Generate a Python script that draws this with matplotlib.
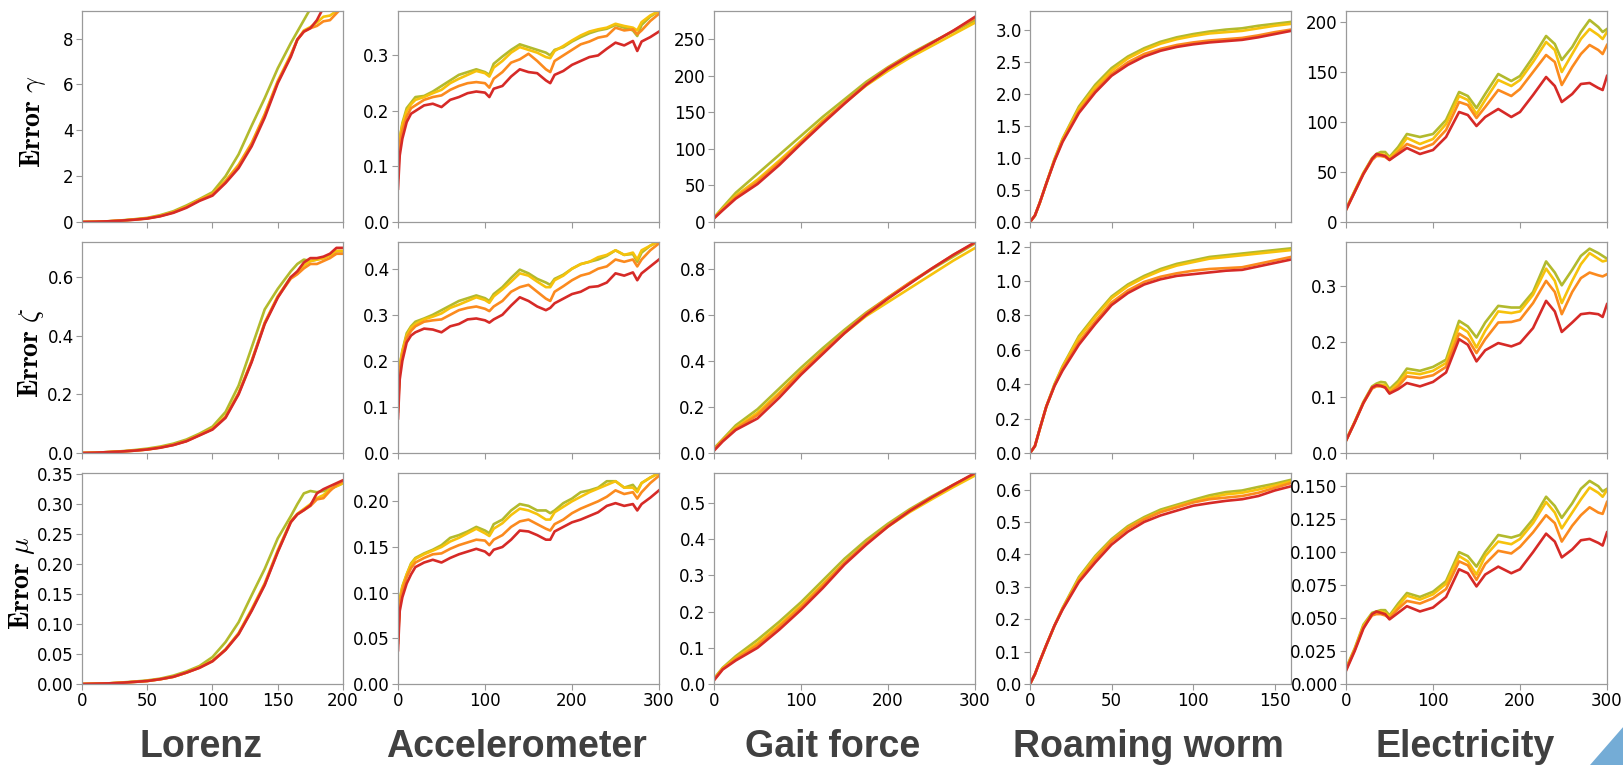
import matplotlib.pyplot as plt
from matplotlib.patches import Polygon
from matplotlib.ticker import FormatStrFormatter

plt.rcParams['mathtext.fontset'] = 'cm'

# series order in every list: red, orange, gold, green
colors = ['#d62a27', '#fb8a1e', '#f6c20c', '#b2ba2d']

# ---------------- Lorenz ----------------
lorenz_x = [0, 10, 20, 30, 40, 50, 60, 70, 80, 90, 100, 110, 120, 130, 140, 150,
            160, 165, 170, 175, 180, 185, 190, 195, 200]
lorenz_gamma = [
    [0, 0.01, 0.03, 0.06, 0.1, 0.15, 0.25, 0.4, 0.62, 0.92, 1.15, 1.7, 2.35, 3.3, 4.55, 6.05,
     7.2, 7.95, 8.3, 8.45, 8.8, 9.35, 9.6, 9.7, 9.9],
    [0, 0.01, 0.03, 0.06, 0.1, 0.16, 0.26, 0.42, 0.65, 0.95, 1.2, 1.75, 2.45, 3.4, 4.65, 6.1,
     7.25, 7.95, 8.3, 8.45, 8.55, 8.75, 8.8, 9.1, 9.4],
    [0, 0.01, 0.03, 0.06, 0.11, 0.16, 0.27, 0.43, 0.66, 0.97, 1.22, 1.8, 2.5, 3.45, 4.7, 6.15,
     7.3, 7.95, 8.35, 8.5, 8.7, 8.95, 9.0, 9.2, 9.4],
    [0, 0.01, 0.03, 0.07, 0.12, 0.18, 0.3, 0.47, 0.72, 1.0, 1.3, 2.0, 2.95, 4.2, 5.4, 6.7,
     7.8, 8.3, 8.8, 9.3, 9.5, 9.6, 9.7, 9.8, 9.9],
]
lorenz_zeta = [
    [0, 0.001, 0.003, 0.005, 0.008, 0.012, 0.018, 0.027, 0.04, 0.06, 0.08, 0.12, 0.2, 0.31, 0.44,
     0.53, 0.6, 0.62, 0.65, 0.665, 0.665, 0.67, 0.68, 0.7, 0.7],
    [0, 0.001, 0.003, 0.005, 0.008, 0.012, 0.019, 0.028, 0.041, 0.061, 0.082, 0.123, 0.203, 0.313,
     0.443, 0.532, 0.595, 0.61, 0.63, 0.645, 0.645, 0.655, 0.665, 0.68, 0.68],
    [0, 0.001, 0.003, 0.005, 0.008, 0.012, 0.019, 0.028, 0.041, 0.062, 0.083, 0.125, 0.205, 0.315,
     0.445, 0.535, 0.6, 0.615, 0.64, 0.655, 0.66, 0.665, 0.675, 0.69, 0.69],
    [0, 0.001, 0.003, 0.006, 0.01, 0.015, 0.022, 0.032, 0.046, 0.066, 0.09, 0.14, 0.23, 0.36, 0.49,
     0.56, 0.62, 0.645, 0.66, 0.655, 0.66, 0.665, 0.675, 0.68, 0.68],
]
lorenz_mu = [
    [0, 0.0005, 0.001, 0.002, 0.0035, 0.005, 0.008, 0.012, 0.019, 0.027, 0.038, 0.057, 0.083,
     0.122, 0.165, 0.22, 0.27, 0.283, 0.29, 0.298, 0.318, 0.325, 0.33, 0.335, 0.34],
    [0, 0.0005, 0.001, 0.002, 0.0035, 0.005, 0.008, 0.012, 0.019, 0.027, 0.038, 0.057, 0.084,
     0.123, 0.166, 0.221, 0.27, 0.283, 0.29, 0.297, 0.308, 0.31, 0.322, 0.332, 0.338],
    [0, 0.0005, 0.001, 0.002, 0.0035, 0.005, 0.008, 0.012, 0.019, 0.028, 0.039, 0.058, 0.085,
     0.125, 0.168, 0.223, 0.272, 0.284, 0.292, 0.3, 0.31, 0.315, 0.325, 0.33, 0.335],
    [0, 0.0005, 0.001, 0.0025, 0.004, 0.006, 0.009, 0.014, 0.021, 0.03, 0.045, 0.07, 0.103,
     0.148, 0.192, 0.243, 0.28, 0.3, 0.318, 0.322, 0.32, 0.322, 0.325, 0.33, 0.335],
]

# ---------------- Accelerometer ----------------
accel_x = [0, 2, 5, 10, 15, 20, 30, 40, 50, 60, 70, 80, 90, 100, 105, 110, 120, 130, 140, 150,
           160, 170, 175, 180, 190, 200, 210, 220, 230, 240, 250, 260, 270, 275, 280, 290, 300]
accel_gamma = [
    [0.06, 0.12, 0.15, 0.18, 0.195, 0.2, 0.21, 0.213, 0.207, 0.22, 0.225, 0.232, 0.235, 0.233,
     0.225, 0.24, 0.245, 0.262, 0.275, 0.27, 0.268, 0.255, 0.25, 0.265, 0.272, 0.283, 0.29, 0.297,
     0.3, 0.312, 0.323, 0.318, 0.326, 0.308, 0.325, 0.333, 0.343],
    [0.08, 0.14, 0.165, 0.19, 0.205, 0.21, 0.22, 0.225, 0.228, 0.238, 0.245, 0.25, 0.252, 0.25,
     0.242, 0.258, 0.27, 0.287, 0.293, 0.303, 0.29, 0.275, 0.27, 0.29, 0.3, 0.31, 0.32, 0.325,
     0.332, 0.335, 0.35, 0.345, 0.347, 0.338, 0.345, 0.362, 0.375],
    [0.09, 0.15, 0.175, 0.2, 0.212, 0.22, 0.225, 0.232, 0.238, 0.25, 0.258, 0.265, 0.272, 0.268,
     0.262, 0.278, 0.29, 0.305, 0.315, 0.31, 0.305, 0.297, 0.295, 0.308, 0.317, 0.327, 0.336,
     0.343, 0.347, 0.35, 0.357, 0.353, 0.35, 0.345, 0.36, 0.372, 0.38],
    [0.09, 0.15, 0.178, 0.205, 0.215, 0.225, 0.227, 0.235, 0.245, 0.255, 0.265, 0.27, 0.275, 0.27,
     0.265, 0.285, 0.298, 0.31, 0.32, 0.315, 0.31, 0.305, 0.3, 0.31, 0.315, 0.325, 0.333, 0.34,
     0.345, 0.348, 0.355, 0.35, 0.345, 0.335, 0.355, 0.37, 0.38],
]
accel_zeta = [
    [0.075, 0.16, 0.2, 0.24, 0.255, 0.262, 0.27, 0.268, 0.262, 0.275, 0.28, 0.29, 0.292, 0.288,
     0.283, 0.29, 0.3, 0.32, 0.338, 0.33, 0.318, 0.31, 0.315, 0.325, 0.335, 0.345, 0.35, 0.36,
     0.362, 0.37, 0.39, 0.385, 0.392, 0.375, 0.39, 0.405, 0.42],
    [0.09, 0.18, 0.21, 0.25, 0.265, 0.275, 0.285, 0.288, 0.29, 0.3, 0.31, 0.315, 0.318, 0.313,
     0.308, 0.318, 0.33, 0.35, 0.36, 0.365, 0.35, 0.335, 0.33, 0.35, 0.362, 0.375, 0.385, 0.39,
     0.4, 0.405, 0.42, 0.415, 0.42, 0.405, 0.42, 0.44, 0.455],
    [0.1, 0.19, 0.22, 0.255, 0.272, 0.28, 0.29, 0.296, 0.303, 0.315, 0.322, 0.33, 0.338, 0.332,
     0.326, 0.34, 0.355, 0.372, 0.39, 0.385, 0.372, 0.36, 0.36, 0.375, 0.385, 0.4, 0.41, 0.415,
     0.425, 0.43, 0.44, 0.43, 0.435, 0.42, 0.44, 0.45, 0.46],
    [0.1, 0.19, 0.222, 0.26, 0.275, 0.285, 0.292, 0.3, 0.31, 0.32, 0.33, 0.336, 0.342, 0.336,
     0.33, 0.345, 0.36, 0.38, 0.398, 0.39, 0.378, 0.37, 0.365, 0.378, 0.387, 0.4, 0.41, 0.415,
     0.42, 0.428, 0.44, 0.43, 0.432, 0.415, 0.435, 0.45, 0.46],
]
accel_mu = [
    [0.037, 0.08, 0.095, 0.11, 0.12, 0.128, 0.133, 0.136, 0.133, 0.138, 0.142, 0.145, 0.148,
     0.145, 0.141, 0.147, 0.15, 0.158, 0.168, 0.167, 0.163, 0.158, 0.158, 0.167, 0.172, 0.177,
     0.18, 0.184, 0.188, 0.195, 0.198, 0.195, 0.197, 0.19, 0.197, 0.204, 0.212],
    [0.045, 0.088, 0.102, 0.117, 0.127, 0.133, 0.138, 0.142, 0.143, 0.148, 0.152, 0.155, 0.158,
     0.157, 0.152, 0.158, 0.163, 0.172, 0.178, 0.18, 0.175, 0.17, 0.168, 0.175, 0.18, 0.187,
     0.192, 0.196, 0.2, 0.205, 0.212, 0.208, 0.21, 0.203, 0.21, 0.22, 0.228],
    [0.05, 0.092, 0.106, 0.12, 0.131, 0.137, 0.142, 0.146, 0.15, 0.156, 0.16, 0.165, 0.17,
     0.165, 0.162, 0.17, 0.176, 0.185, 0.192, 0.19, 0.186, 0.18, 0.18, 0.188, 0.194, 0.2, 0.205,
     0.21, 0.214, 0.218, 0.222, 0.215, 0.215, 0.21, 0.22, 0.226, 0.231],
    [0.05, 0.093, 0.107, 0.12, 0.132, 0.138, 0.143, 0.147, 0.152, 0.16, 0.163, 0.167, 0.172,
     0.168, 0.165, 0.175, 0.18, 0.19, 0.197, 0.195, 0.19, 0.19, 0.187, 0.19, 0.198, 0.203, 0.21,
     0.212, 0.215, 0.222, 0.222, 0.215, 0.218, 0.212, 0.22, 0.226, 0.231],
]

# ---------------- Gait force ----------------
gait_x = [0, 10, 25, 50, 75, 100, 125, 150, 175, 200, 225, 250, 275, 300]
gait_gamma = [
    [5, 16, 32, 52, 78, 107, 135, 162, 188, 210, 228, 245, 262, 281],
    [5, 17, 34, 55, 81, 109, 137, 164, 189, 211, 229, 245, 262, 279],
    [6, 18, 36, 58, 84, 111, 139, 163, 187, 207, 225, 241, 257, 273],
    [6, 20, 40, 66, 92, 118, 144, 168, 192, 212, 230, 246, 261, 276],
]
gait_zeta = [
    [0.01, 0.05, 0.1, 0.15, 0.24, 0.34, 0.43, 0.52, 0.6, 0.67, 0.735, 0.8, 0.86, 0.915],
    [0.015, 0.055, 0.105, 0.165, 0.255, 0.35, 0.44, 0.525, 0.605, 0.675, 0.74, 0.8, 0.86, 0.912],
    [0.015, 0.055, 0.11, 0.175, 0.262, 0.355, 0.44, 0.52, 0.595, 0.655, 0.715, 0.775, 0.835, 0.89],
    [0.02, 0.06, 0.12, 0.19, 0.28, 0.37, 0.455, 0.535, 0.61, 0.675, 0.738, 0.797, 0.853, 0.91],
]
gait_mu = [
    [0.01, 0.04, 0.065, 0.1, 0.15, 0.205, 0.265, 0.33, 0.385, 0.435, 0.478, 0.515, 0.55, 0.583],
    [0.012, 0.042, 0.069, 0.107, 0.158, 0.212, 0.272, 0.335, 0.39, 0.438, 0.48, 0.516, 0.55, 0.582],
    [0.013, 0.043, 0.072, 0.113, 0.163, 0.217, 0.276, 0.336, 0.389, 0.435, 0.475, 0.51, 0.544, 0.576],
    [0.015, 0.045, 0.077, 0.122, 0.172, 0.226, 0.286, 0.346, 0.398, 0.443, 0.483, 0.518, 0.55, 0.58],
]

# ---------------- Roaming worm ----------------
worm_x = [0, 3, 6, 10, 15, 20, 30, 40, 50, 60, 70, 80, 90, 100, 110, 120, 130, 140, 150, 160]
worm_gamma = [
    [0, 0.1, 0.3, 0.6, 0.95, 1.25, 1.7, 2.02, 2.28, 2.45, 2.58, 2.67, 2.73, 2.77, 2.8, 2.82, 2.84,
     2.88, 2.93, 2.98],
    [0, 0.1, 0.3, 0.6, 0.96, 1.27, 1.73, 2.05, 2.31, 2.49, 2.62, 2.7, 2.76, 2.8, 2.83, 2.85, 2.87,
     2.91, 2.96, 3.0],
    [0, 0.1, 0.3, 0.6, 0.97, 1.29, 1.77, 2.1, 2.36, 2.55, 2.68, 2.78, 2.85, 2.9, 2.94, 2.96, 2.98,
     3.02, 3.06, 3.09],
    [0, 0.1, 0.3, 0.6, 0.98, 1.3, 1.8, 2.14, 2.4, 2.58, 2.71, 2.81, 2.88, 2.93, 2.97, 3.0, 3.02,
     3.06, 3.09, 3.12],
]
worm_zeta = [
    [0, 0.04, 0.14, 0.27, 0.39, 0.48, 0.63, 0.75, 0.86, 0.93, 0.98, 1.01, 1.03, 1.04, 1.05, 1.06,
     1.065, 1.085, 1.105, 1.125],
    [0, 0.04, 0.14, 0.27, 0.39, 0.49, 0.645, 0.765, 0.875, 0.945, 0.995, 1.025, 1.045, 1.06, 1.07,
     1.075, 1.08, 1.1, 1.12, 1.14],
    [0, 0.04, 0.14, 0.27, 0.395, 0.5, 0.67, 0.79, 0.9, 0.97, 1.02, 1.06, 1.09, 1.11, 1.13, 1.14,
     1.15, 1.16, 1.17, 1.18],
    [0, 0.04, 0.14, 0.27, 0.4, 0.505, 0.68, 0.8, 0.91, 0.98, 1.03, 1.07, 1.1, 1.12, 1.14, 1.15,
     1.16, 1.17, 1.18, 1.19],
]
worm_mu = [
    [0, 0.03, 0.07, 0.12, 0.18, 0.23, 0.315, 0.375, 0.43, 0.47, 0.5, 0.52, 0.535, 0.55, 0.558,
     0.565, 0.57, 0.58, 0.597, 0.61],
    [0, 0.03, 0.07, 0.12, 0.18, 0.232, 0.32, 0.385, 0.44, 0.48, 0.508, 0.53, 0.545, 0.56, 0.57,
     0.575, 0.58, 0.59, 0.605, 0.62],
    [0, 0.03, 0.07, 0.12, 0.18, 0.233, 0.325, 0.39, 0.442, 0.482, 0.51, 0.532, 0.548, 0.562, 0.575,
     0.585, 0.59, 0.6, 0.612, 0.625],
    [0, 0.03, 0.07, 0.12, 0.18, 0.235, 0.33, 0.395, 0.447, 0.487, 0.515, 0.538, 0.553, 0.568,
     0.582, 0.592, 0.597, 0.608, 0.618, 0.63],
]

# ---------------- Electricity ----------------
elec_x = [0, 10, 20, 30, 35, 40, 45, 50, 60, 70, 85, 100, 115, 130, 140, 150, 160, 175, 190, 200,
          215, 230, 240, 248, 260, 270, 280, 290, 295, 300]
elec_gamma = [
    [12, 30, 48, 63, 68, 67, 66, 62, 68, 74, 68, 72, 85, 110, 107, 96, 105, 113, 105, 110, 127,
     145, 136, 120, 128, 138, 139, 134, 132, 146],
    [12, 30, 48, 62, 66, 66, 65, 62, 70, 78, 73, 78, 92, 120, 117, 104, 115, 132, 126, 133, 150,
     167, 160, 137, 155, 168, 177, 172, 168, 177],
    [13, 31, 49, 63, 67, 68, 67, 64, 72, 84, 78, 83, 98, 126, 122, 108, 122, 142, 136, 142, 160,
     180, 172, 150, 168, 183, 193, 187, 183, 190],
    [13, 31, 49, 64, 68, 70, 70, 65, 75, 88, 85, 88, 102, 130, 126, 114, 128, 148, 141, 146, 165,
     186, 178, 162, 175, 190, 202, 195, 190, 193],
]
elec_zeta = [
    [0.022, 0.055, 0.09, 0.118, 0.122, 0.121, 0.118, 0.107, 0.115, 0.126, 0.12, 0.128, 0.145,
     0.205, 0.195, 0.165, 0.185, 0.198, 0.192, 0.198, 0.225, 0.274, 0.255, 0.218, 0.235, 0.25,
     0.252, 0.25, 0.245, 0.268],
    [0.022, 0.055, 0.09, 0.116, 0.12, 0.12, 0.118, 0.108, 0.12, 0.138, 0.135, 0.14, 0.155, 0.215,
     0.205, 0.18, 0.205, 0.235, 0.236, 0.24, 0.27, 0.31, 0.29, 0.25, 0.29, 0.315, 0.325, 0.32,
     0.318, 0.322],
    [0.023, 0.056, 0.091, 0.118, 0.122, 0.123, 0.122, 0.111, 0.125, 0.145, 0.142, 0.148, 0.162,
     0.228, 0.218, 0.19, 0.22, 0.255, 0.252, 0.255, 0.285, 0.332, 0.31, 0.27, 0.31, 0.34, 0.36,
     0.35, 0.345, 0.347],
    [0.023, 0.056, 0.092, 0.12, 0.125, 0.128, 0.127, 0.115, 0.13, 0.152, 0.148, 0.155, 0.168,
     0.238, 0.228, 0.208, 0.235, 0.265, 0.262, 0.262, 0.29, 0.345, 0.325, 0.302, 0.33, 0.355,
     0.368, 0.36, 0.355, 0.35],
]
elec_mu = [
    [0.01, 0.025, 0.042, 0.053, 0.055, 0.054, 0.053, 0.049, 0.054, 0.059, 0.055, 0.058, 0.066,
     0.087, 0.084, 0.074, 0.083, 0.089, 0.084, 0.087, 0.1, 0.114, 0.108, 0.096, 0.102, 0.109,
     0.11, 0.107, 0.105, 0.115],
    [0.011, 0.026, 0.043, 0.052, 0.053, 0.053, 0.052, 0.05, 0.057, 0.063, 0.061, 0.065, 0.072,
     0.093, 0.09, 0.079, 0.091, 0.101, 0.099, 0.104, 0.115, 0.128, 0.122, 0.108, 0.12, 0.128,
     0.134, 0.13, 0.129, 0.138],
    [0.011, 0.026, 0.044, 0.053, 0.054, 0.055, 0.054, 0.051, 0.059, 0.067, 0.064, 0.068, 0.076,
     0.097, 0.093, 0.083, 0.097, 0.108, 0.106, 0.11, 0.122, 0.138, 0.13, 0.118, 0.13, 0.14,
     0.149, 0.145, 0.142, 0.147],
    [0.012, 0.027, 0.045, 0.054, 0.055, 0.056, 0.056, 0.052, 0.061, 0.069, 0.066, 0.07, 0.078,
     0.1, 0.097, 0.089, 0.1, 0.113, 0.111, 0.113, 0.125, 0.142, 0.135, 0.126, 0.137, 0.148,
     0.154, 0.15, 0.146, 0.148],
]

titles = ['Lorenz', 'Accelerometer', 'Gait force', 'Roaming worm', 'Electricity']
row_labels = [r'$\mathbf{Error}\ \gamma$', r'$\mathbf{Error}\ \zeta$', r'$\mathbf{Error}\ \mu$']

xs = [lorenz_x, accel_x, gait_x, worm_x, elec_x]
xmax = [200, 300, 300, 160, 300]
xticks = [[0, 50, 100, 150, 200], [0, 100, 200, 300], [0, 100, 200, 300],
          [0, 50, 100, 150], [0, 100, 200, 300]]
data = [
    [lorenz_gamma, accel_gamma, gait_gamma, worm_gamma, elec_gamma],
    [lorenz_zeta, accel_zeta, gait_zeta, worm_zeta, elec_zeta],
    [lorenz_mu, accel_mu, gait_mu, worm_mu, elec_mu],
]
ylims = [
    [9.2, 0.38, 289, 3.29, 211],
    [0.72, 0.458, 0.916, 1.227, 0.38],
    [0.352, 0.231, 0.583, 0.651, 0.160],
]
yticks = [
    [[0, 2, 4, 6, 8], [0, 0.1, 0.2, 0.3], [0, 50, 100, 150, 200, 250],
     [0, 0.5, 1.0, 1.5, 2.0, 2.5, 3.0], [0, 50, 100, 150, 200]],
    [[0, 0.2, 0.4, 0.6], [0, 0.1, 0.2, 0.3, 0.4], [0, 0.2, 0.4, 0.6, 0.8],
     [0, 0.2, 0.4, 0.6, 0.8, 1.0, 1.2], [0, 0.1, 0.2, 0.3]],
    [[0, 0.05, 0.1, 0.15, 0.2, 0.25, 0.3, 0.35], [0, 0.05, 0.1, 0.15, 0.2],
     [0, 0.1, 0.2, 0.3, 0.4, 0.5], [0, 0.1, 0.2, 0.3, 0.4, 0.5, 0.6],
     [0, 0.025, 0.05, 0.075, 0.1, 0.125, 0.15]],
]
yfmt = [
    ['%d', '%.1f', '%d', '%.1f', '%d'],
    ['%.1f', '%.1f', '%.1f', '%.1f', '%.1f'],
    ['%.2f', '%.2f', '%.1f', '%.1f', '%.3f'],
]

W, H = 1624, 765
fig = plt.figure(figsize=(W / 100, H / 100), dpi=100)
lefts = [82, 398, 714, 1030, 1346]
tops = [11, 242, 473]
aw, ah = 261, 211

for r in range(3):
    for c in range(5):
        ax = fig.add_axes([lefts[c] / W, 1 - (tops[r] + ah) / H, aw / W, ah / H])
        series = data[r][c]
        # green drawn first, red last (on top)
        for k in [3, 2, 1, 0]:
            ax.plot(xs[c], series[k], color=colors[k], lw=1.9, solid_joinstyle='round')
        ax.set_xlim(0, xmax[c])
        ax.set_ylim(0, ylims[r][c])
        ax.set_xticks(xticks[c])
        ax.set_yticks(yticks[r][c])
        ax.yaxis.set_major_formatter(FormatStrFormatter(yfmt[r][c]))
        if r < 2:
            ax.set_xticklabels([])
        ax.tick_params(labelsize=12, color='#999999', length=4, width=0.8, pad=2)
        for sp in ax.spines.values():
            sp.set_color('#9a9a9a')
            sp.set_linewidth(0.9)

label_x = [33, 31, 22]
for r in range(3):
    fig.text(label_x[r] / W, 1 - (tops[r] + ah / 2 + 5) / H, row_labels[r], rotation=90,
             fontsize=20, ha='center', va='center')

for c in range(5):
    fig.text((lefts[c] + 0.455 * aw) / W, 1 - 747 / H, titles[c], fontsize=27,
             fontweight='bold', color='#404040', family='Liberation Sans',
             ha='center', va='center')

# corner decoration
tri = Polygon([(1590 / W, 0), (1624 / W, 0), (1624 / W, (765 - 726) / H)],
              closed=True, transform=fig.transFigure, facecolor='#74acd6',
              edgecolor='none')
fig.patches.append(tri)

fig.savefig('out.png', dpi=100)
